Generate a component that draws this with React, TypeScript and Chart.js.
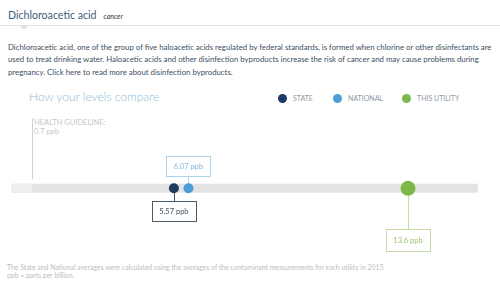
import React, { useEffect, useRef } from 'react';
import { Chart, registerables } from 'chart.js';

Chart.register(...registerables);

// ---- data ----
const seriesNames: string[] = ['STATE', 'NATIONAL', 'THIS UTILITY'];
const seriesValues: number[] = [5.57, 6.07, 13.6];
const valueLabels: string[] = ['5.57 ppb', '6.07 ppb', '13.6 ppb'];
const guidelineValue = 0.7;
const guidelineLabels: string[] = ['HEALTH GUIDELINE:', '0.7 ppb'];
const axisRange: number[] = [0, 16];

// ---- styles (kept apart from data) ----
const seriesColors = ['#1d3b63', '#4d9dd7', '#7db84a'];
const pointRadii = [5, 5, 7.5];
const boxBorder = ['#4c5b69', '#aad3ec', '#c4dca6'];
const boxText = ['#3e4f60', '#80b6dd', '#9cc470'];
const boxPlacement = ['belowNear', 'above', 'belowFar'];

const FONT = 'Lato, "Open Sans", sans-serif';

const bandPlugin = {
  id: 'bandPlugin',
  beforeDatasetsDraw(chart: any) {
    const { ctx, scales } = chart;
    const xs = scales.x;
    const ys = scales.y;
    const cy = ys.getPixelForValue(0);
    const x0 = xs.getPixelForValue(axisRange[0]);
    const x1 = xs.getPixelForValue(axisRange[1]);
    const xg = xs.getPixelForValue(guidelineValue);
    ctx.save();
    ctx.fillStyle = '#e3e3e3';
    ctx.fillRect(x0, cy - 4.5, x1 - x0, 9);
    ctx.fillStyle = '#eeeeee';
    ctx.fillRect(x0, cy - 4.5, xg - x0, 9);
    ctx.strokeStyle = '#cfcfcf';
    ctx.lineWidth = 1;
    ctx.beginPath();
    ctx.moveTo(Math.round(xg) + 0.5, 8);
    ctx.lineTo(Math.round(xg) + 0.5, cy - 9);
    ctx.stroke();

    const bw = 44;
    seriesValues.forEach((v, i) => {
      const px = xs.getPixelForValue(v);
      const r = pointRadii[i];
      let top: number;
      let bh = 20;
      let lineFrom: number;
      let lineTo: number;
      if (boxPlacement[i] === 'above') {
        top = cy - 12 - bh;
        lineFrom = top + bh;
        lineTo = cy - r + 1;
      } else if (boxPlacement[i] === 'belowNear') {
        top = cy + 13;
        lineFrom = cy + r - 1;
        lineTo = top;
      } else {
        bh = 22;
        top = cy + 41;
        lineFrom = cy + r - 1;
        lineTo = top;
      }
      const lx = Math.round(px) + 0.5;
      ctx.strokeStyle = boxBorder[i];
      ctx.lineWidth = 1;
      ctx.beginPath();
      ctx.moveTo(lx, lineFrom);
      ctx.lineTo(lx, lineTo);
      ctx.stroke();
      const left = Math.round(px - bw / 2) + 0.5;
      ctx.fillStyle = '#ffffff';
      ctx.fillRect(left, Math.round(top) + 0.5, bw, bh);
      ctx.strokeRect(left, Math.round(top) + 0.5, bw, bh);
      ctx.fillStyle = boxText[i];
      ctx.font = `7.5px ${FONT}`;
      ctx.textAlign = 'center';
      ctx.textBaseline = 'middle';
      ctx.fillText(valueLabels[i], px, Math.round(top) + bh / 2 + 1);
    });
    ctx.restore();
  },
};

function ChartCanvas() {
  const ref = useRef<HTMLCanvasElement | null>(null);
  useEffect(() => {
    if (!ref.current) return;
    const chart = new Chart(ref.current, {
      type: 'scatter',
      data: {
        datasets: seriesNames.map((name, i) => ({
          label: name,
          data: [{ x: seriesValues[i], y: 0 }],
          backgroundColor: seriesColors[i],
          borderColor: seriesColors[i],
          borderWidth: 0,
          pointRadius: pointRadii[i],
          pointHoverRadius: pointRadii[i],
        })),
      },
      options: {
        animation: false,
        responsive: false,
        devicePixelRatio: 1,
        layout: { padding: { left: 11.5, right: 22, top: 14, bottom: 0 } },
        scales: {
          x: { type: 'linear', min: axisRange[0], max: axisRange[1], display: false },
          y: { type: 'linear', min: -1, max: 1, display: false },
        },
        plugins: { legend: { display: false }, tooltip: { enabled: false } },
        events: [],
      },
      plugins: [bandPlugin],
    } as any);
    return () => chart.destroy();
  }, []);
  return (
    <canvas
      ref={ref}
      width={500}
      height={150}
      style={{ position: 'absolute', left: 0, top: 110, width: 500, height: 150 }}
    />
  );
}

export default function App() {
  const abs = (top: number, left: number, extra: React.CSSProperties = {}): React.CSSProperties => ({
    position: 'absolute',
    top,
    left,
    whiteSpace: 'nowrap',
    fontFamily: FONT,
    margin: 0,
    ...extra,
  });
  const legendX = [282, 337, 406];
  return (
    <div style={{ position: 'absolute', left: 0, top: 0, width: 500, height: 283, background: '#fff', overflow: 'hidden' }}>
      <div style={abs(7, 8, { fontSize: 10.6, lineHeight: '16px', color: '#3f5d7a' })}>
        Dichloroacetic acid
        <span style={{ fontSize: 7, fontStyle: 'italic', color: '#333', marginLeft: 7 }}>cancer</span>
      </div>
      <div style={{ position: 'absolute', left: 0, top: 25, width: 500, height: 1, background: '#e3e3e3' }} />
      <div style={{ position: 'absolute', left: 20, top: 26, width: 0, height: 0, borderLeft: '4px solid transparent', borderRight: '4px solid transparent', borderTop: '4px solid #e3e3e3' }} />
      <div style={abs(40.5, 8, { fontSize: 7.8, lineHeight: '12.5px', color: '#3b4f62' })}>
        Dichloroacetic acid, one of the group of five haloacetic acids regulated by federal standards, is formed when chlorine or other disinfectants are
        <br />
        used to treat drinking water. Haloacetic acids and other disinfection byproducts increase the risk of cancer and may cause problems during
        <br />
        pregnancy. Click here to read more about disinfection byproducts.
      </div>
      <div style={abs(89, 29, { fontSize: 12, lineHeight: '16px', color: '#8dbbd8', fontWeight: 300 })}>
        How your levels compare
      </div>
      {seriesNames.map((n, i) => (
        <React.Fragment key={n}>
          <div style={{ position: 'absolute', left: legendX[i] - 4.5, top: 98 - 4.5, width: 9, height: 9, borderRadius: '50%', background: seriesColors[i] }} />
          <div style={abs(93, legendX[i] + 11, { fontSize: 7, lineHeight: '10px', color: '#8e9aa6' })}>{n}</div>
        </React.Fragment>
      ))}
      <div style={abs(118, 34, { fontSize: 7.5, lineHeight: '9px', color: '#c6c6c6' })}>
        {guidelineLabels[0]}
        <br />
        {guidelineLabels[1]}
      </div>
      <ChartCanvas />
      <div style={abs(262.5, 7, { fontSize: 6.85, lineHeight: '8.5px', color: '#bcbcbc' })}>
        The State and National averages were calculated using the averages of the contaminant measurements for each utility in 2015.
        <br />
        ppb = parts per billion.
      </div>
    </div>
  );
}
